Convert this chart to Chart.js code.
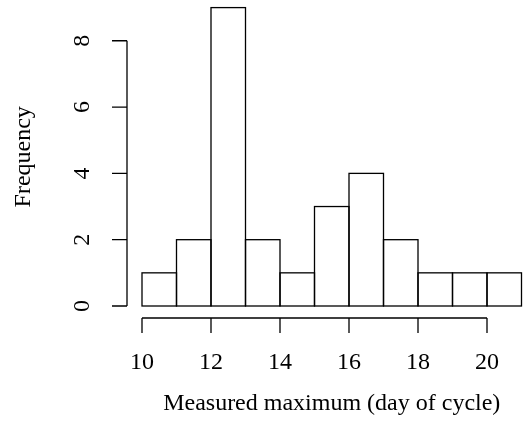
<!DOCTYPE html>
<html>
<head>
<meta charset="utf-8">
<script src="https://cdn.jsdelivr.net/npm/chart.js@4"></script>
<style>
  html, body { margin: 0; padding: 0; background: #fff; }
  canvas { display: block; }
</style>
</head>
<body>
<canvas id="hist" width="527" height="441"></canvas>
<script>
// histogram bins (day of cycle) and counts per bin
const breaks = [10, 11, 12, 13, 14, 15, 16, 17, 18, 19, 20, 21];
const counts = [1, 2, 9, 2, 1, 3, 4, 2, 1, 1, 1];
const xTicks = [10, 12, 14, 16, 18, 20];
const yTicks = [0, 2, 4, 6, 8];
const xTitle = 'Measured maximum (day of cycle)';
const yTitle = 'Frequency';

const FONT = '24px "Liberation Serif", "DejaVu Serif", serif';
const LW = 1.3;

// each bar sits at the middle of its bin
const bars = counts.map((c, i) => ({ x: (breaks[i] + breaks[i + 1]) / 2, y: c }));

// outline the bars with one shared line per edge instead of inset borders
const barOutline = {
  id: 'barOutline',
  afterDatasetsDraw(chart) {
    const ctx = chart.ctx;
    ctx.save();
    ctx.strokeStyle = '#000';
    ctx.lineWidth = LW;
    chart.getDatasetMeta(0).data.forEach(el => {
      const p = el.getProps(['x', 'y', 'base', 'width'], true);
      ctx.strokeRect(p.x - p.width / 2, p.y, p.width, p.base - p.y);
    });
    ctx.restore();
  }
};

// base-graphics style axes: detached lines, outward ticks, rotated y labels
const rAxes = {
  id: 'rAxes',
  afterDraw(chart) {
    const ctx = chart.ctx;
    const xs = chart.scales.x, ys = chart.scales.y;
    const axisY = 318, axisX = 127, tick = 15;
    ctx.save();
    ctx.strokeStyle = '#000';
    ctx.fillStyle = '#000';
    ctx.lineWidth = LW;
    ctx.font = FONT;

    // x axis
    const x0 = xs.getPixelForValue(xTicks[0]);
    const x1 = xs.getPixelForValue(xTicks[xTicks.length - 1]);
    ctx.beginPath();
    ctx.moveTo(x0, axisY); ctx.lineTo(x1, axisY);
    xTicks.forEach(v => {
      const px = xs.getPixelForValue(v);
      ctx.moveTo(px, axisY); ctx.lineTo(px, axisY + tick);
    });
    ctx.stroke();
    ctx.textAlign = 'center';
    ctx.textBaseline = 'middle';
    xTicks.forEach(v => ctx.fillText(String(v), xs.getPixelForValue(v), 363));

    // y axis
    const y0 = ys.getPixelForValue(yTicks[0]);
    const y1 = ys.getPixelForValue(yTicks[yTicks.length - 1]);
    ctx.beginPath();
    ctx.moveTo(axisX, y0); ctx.lineTo(axisX, y1);
    yTicks.forEach(v => {
      const py = ys.getPixelForValue(v);
      ctx.moveTo(axisX, py); ctx.lineTo(axisX - tick, py);
    });
    ctx.stroke();
    yTicks.forEach(v => {
      ctx.save();
      ctx.translate(83, ys.getPixelForValue(v));
      ctx.rotate(-Math.PI / 2);
      ctx.fillText(String(v), 0, 0);
      ctx.restore();
    });

    // titles, centred on the plot region
    const cx = xs.getPixelForValue((breaks[0] + breaks[breaks.length - 1]) / 2);
    ctx.fillText(xTitle, cx, 404);
    const cy = ys.getPixelForValue((ys.min + ys.max) / 2);
    ctx.save();
    ctx.translate(24, cy);
    ctx.rotate(-Math.PI / 2);
    ctx.fillText(yTitle, 0, 0);
    ctx.restore();
    ctx.restore();
  }
};

new Chart(document.getElementById('hist'), {
  type: 'bar',
  data: {
    datasets: [{
      data: bars,
      backgroundColor: '#fff',
      borderWidth: 0,
      barPercentage: 1,
      categoryPercentage: 1,
      inflateAmount: 0
    }]
  },
  plugins: [barOutline, rAxes],
  options: {
    responsive: false,
    animation: false,
    layout: { padding: { left: 142, right: 5.5, top: 7.6, bottom: 135 } },
    plugins: { legend: { display: false }, tooltip: { enabled: false } },
    scales: {
      x: { type: 'linear', offset: false, min: breaks[0], max: breaks[breaks.length - 1], display: false },
      y: { min: 0, max: 9, display: false }
    }
  }
});
</script>
</body>
</html>
